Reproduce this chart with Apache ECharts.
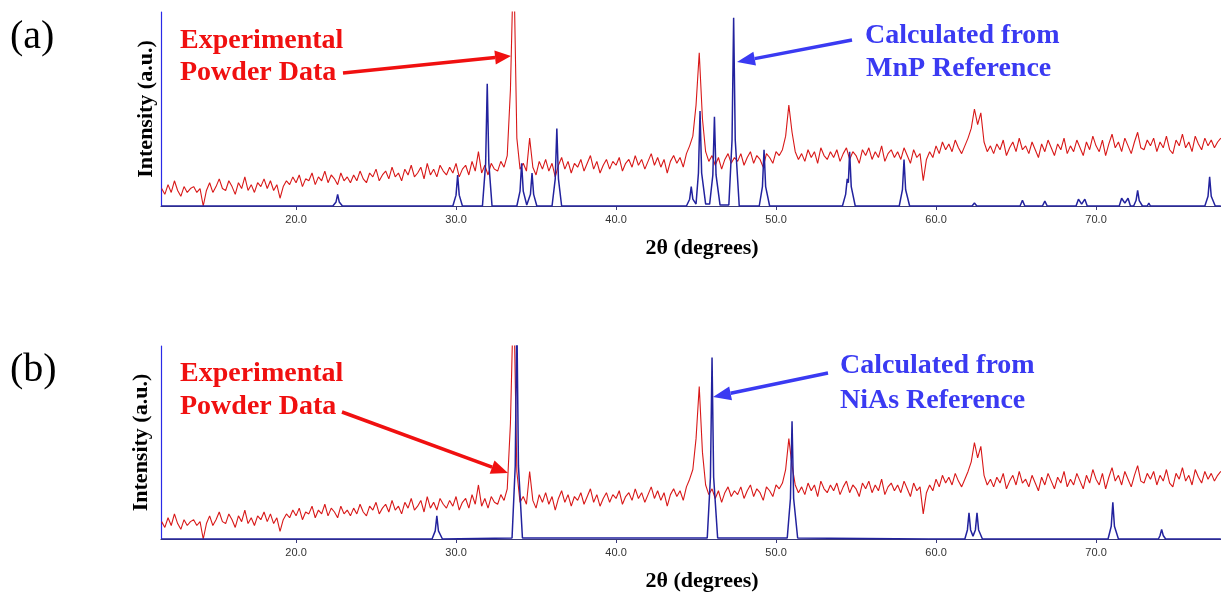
<!DOCTYPE html>
<html>
<head>
<meta charset="utf-8">
<script src="https://cdn.jsdelivr.net/npm/echarts@6.0.0/dist/echarts.min.js"></script>
<style>
html,body{margin:0;padding:0;background:#fff;}
#chart{width:1221px;height:593px;}
</style>
</head>
<body>
<div id="chart"></div>
<script>
// ---- Data ----
const X_TICKS = [20, 30, 40, 50, 60, 70];
const X_MIN = 11.56, X_MAX = 77.81;
// experimental scan: 2θ start / step of the samples
const SCAN_START = 11.6, SCAN_STEP = 0.2;
const EXP_INTENSITY = [
 9, 6, 11, 7, 13, 8, 5, 10, 7, 9,
 10, 7, 9, 0, 8, 12, 7, 10, 14, 9,
 8, 13, 10, 6, 12, 9, 15, 8, 11, 7,
 12, 10, 14, 9, 13, 8, 11, 4, 10, 13,
 11, 15, 12, 16, 10, 14, 13, 17, 11, 15,
 13, 18, 12, 16, 14, 11, 17, 13, 15, 12,
 16, 13, 18, 14, 12, 17, 15, 19, 13, 16,
 18, 14, 20, 15, 17, 13, 19, 16, 21, 15,
 17, 20, 14, 22, 16, 19, 15, 21, 18, 16,
 20, 17, 22, 15, 19, 21, 16, 23, 18, 28,
 17, 21, 16, 22, 19, 18, 23, 20, 26, 60,
 130, 35, 19, 22, 18, 35, 20, 16, 23, 19,
 24, 18, 22, 15, 21, 25, 19, 23, 17, 22,
 20, 24, 18, 22, 26, 19, 23, 17, 21, 24,
 19, 23, 21, 25, 18, 22, 24, 20, 26, 21,
 24, 19, 23, 27, 21, 25, 20, 24, 17, 23,
 26, 22, 25, 20, 27, 31, 36, 52, 79, 45,
 28, 23, 26, 21, 25, 19, 24, 27, 22, 25,
 23, 27, 21, 25, 28, 22, 26, 24, 20, 27,
 25, 22, 28, 26, 29, 36, 52, 38, 28, 24,
 27, 23, 29, 25, 28, 22, 30, 26, 24, 28,
 25, 29, 23, 27, 30, 24, 28, 26, 22, 29,
 26, 30, 24, 28, 25, 31, 23, 27, 29, 25,
 28, 24, 30, 26, 22, 29, 25, 27, 13, 24,
 28, 25, 31, 27, 33, 29, 32, 28, 34, 30,
 27, 31, 35, 40, 50, 42, 48, 33, 28, 31,
 27, 32, 29, 34, 26, 30, 33, 28, 35, 29,
 31, 27, 33, 29, 25, 32, 28, 34, 30, 26,
 32, 29, 35, 27, 31, 28, 34, 30, 26, 33,
 29, 36, 31, 28, 34, 26, 32, 37, 30, 33,
 28, 35, 31, 27, 33, 38, 30, 29, 34, 31,
 35, 28, 33, 30, 36, 29, 27, 34, 31, 37,
 30, 33, 28, 36, 32, 29, 35, 31, 34, 30,
 33, 35
];
const MNP_CALC = [
 [11.6,0],
 [22.3,0],[22.5,2.1],[22.6,6],[22.7,2.1],[22.9,0],
 [29.8,0],[30.0,5.6],[30.1,16],[30.2,5.6],[30.4,0],
 [31.65,0],[31.85,22],[31.95,63],[32.05,22],[32.25,0],
 [33.8,0],[34.0,7.7],[34.1,22],[34.2,7.7],[34.42,0.5],
 [34.65,6],[34.75,17],[34.85,6],[35.05,0],
 [36.0,0],[36.2,14],[36.3,40],[36.4,14],[36.6,0],
 [44.4,0],[44.6,3.5],[44.7,10],[44.8,3.5],[45.0,1],
 [45.15,17],[45.25,49],[45.35,17],[45.6,1],
 [45.85,1],[46.05,16],[46.15,46],[46.25,16],[46.5,0.5],
 [47.05,0.5],[47.25,34],[47.35,97],[47.45,34],[47.7,0],
 [48.95,0],[49.15,10],[49.25,29],[49.35,10],[49.6,0],
 [54.15,0],[54.35,6],[54.45,14],[54.52,12],[54.6,28],[54.7,10],[54.95,0],
 [57.7,0],[57.9,8.4],[58.0,24],[58.1,8.4],[58.35,0],
 [62.25,0],[62.4,1.5],[62.55,0],
 [65.25,0],[65.4,3],[65.55,0],
 [66.65,0],[66.8,2.5],[66.95,0],
 [68.75,0],[68.9,3.5],[69.1,1],[69.3,3.5],[69.45,0],
 [71.45,0],[71.6,4],[71.8,1.5],[72.0,4],[72.15,0],
 [72.35,0],[72.5,2.8],[72.6,8],[72.7,2.8],[72.9,0],
 [73.2,0],[73.3,1.5],[73.4,0],
 [76.8,0],[77.0,5],[77.1,15],[77.2,5],[77.45,0],
 [77.8,0]
];
const NIAS_CALC = [
 [11.6,0],
 [28.5,0],[28.7,4.2],[28.8,12],[28.9,4.2],[29.15,0],
 [33.5,0.5],[33.7,38],[33.8,115],[33.9,38],[34.15,0.5],
 [45.7,0.5],[45.9,32],[46.0,94],[46.1,32],[46.35,0.5],
 [50.7,0.5],[50.9,21],[51.0,61],[51.1,21],[51.35,0.5],
 [59.5,0],[59.6,1],[59.7,0],
 [61.8,0],[61.96,4.7],[62.06,13.5],[62.16,4.7],[62.31,1.5],[62.46,4.7],[62.56,13.5],[62.66,4.7],[62.9,0],
 [70.75,0],[70.95,6.6],[71.05,19],[71.15,6.6],[71.4,0],
 [73.9,0],[74.0,1.8],[74.1,5],[74.2,1.8],[74.35,0],
 [77.8,0]
];

// ---- Build chart ----
const expPairs = EXP_INTENSITY.map((v, i) => [+(SCAN_START + i * SCAN_STEP).toFixed(2), v]);
const SERIF = '"Liberation Serif", "Times New Roman", serif';
const SANS = '"Liberation Sans", Arial, sans-serif';
const RED = '#f01010', BLUE = '#3a3af2';
const AXIS_DARK = '#3a3a78', AXIS_BLUE = '#2a2ae8';

function xAxis(gridIndex) {
  return {
    type: 'value', gridIndex, min: X_MIN, max: X_MAX,
    name: '2θ (degrees)', nameLocation: 'middle', nameGap: 31,
    nameTextStyle: { fontFamily: SERIF, fontWeight: 'bold', fontSize: 22, color: '#000', padding: [0, 0, 0, 22] },
    axisLine: { show: true, lineStyle: { color: AXIS_DARK, width: 1.2 } },
    axisTick: { show: true, length: 4, customValues: X_TICKS, lineStyle: { color: AXIS_DARK } },
    axisLabel: { customValues: X_TICKS, margin: 8, fontFamily: SANS, fontSize: 11, color: '#333',
                 formatter: v => v.toFixed(1) },
    splitLine: { show: false }
  };
}
function yAxis(gridIndex, gap) {
  return {
    type: 'value', gridIndex, min: 0, max: 100,
    name: 'Intensity (a.u.)', nameLocation: 'middle', nameGap: gap, nameRotate: 90,
    nameTextStyle: { fontFamily: SERIF, fontWeight: 'bold', fontSize: 22, color: '#000' },
    axisLine: { show: true, lineStyle: { color: AXIS_BLUE, width: 1.2 } },
    axisTick: { show: false }, axisLabel: { show: false }, splitLine: { show: false }
  };
}
function arrow(x1, y1, tip, base, p1, p2, color) {
  return [
    { type: 'line', shape: { x1, y1, x2: base[0], y2: base[1] }, style: { stroke: color, lineWidth: 3.5 } },
    { type: 'polygon', shape: { points: [tip, p1, p2] }, style: { fill: color } }
  ];
}
function label(text, x, y, color, size, weight) {
  return { type: 'text', x, y, style: { text, fill: color, font: `${weight} ${size}px ${SERIF}`,
           textAlign: 'left', textVerticalAlign: 'middle' } };
}

const chart = echarts.init(document.getElementById('chart'), null, { renderer: 'canvas' });
chart.setOption({
  animation: false,
  backgroundColor: '#fff',
  grid: [
    { left: 161, top: 12, width: 1060, height: 194 },
    { left: 161, top: 346, width: 1060, height: 193 }
  ],
  xAxis: [xAxis(0), xAxis(1)],
  yAxis: [yAxis(0, 4), yAxis(1, 9)],
  series: [
    { type: 'line', xAxisIndex: 0, yAxisIndex: 0, data: expPairs, showSymbol: false, symbol: 'none',
      lineStyle: { color: '#d81818', width: 1.1 }, clip: true, z: 2 },
    { type: 'line', xAxisIndex: 0, yAxisIndex: 0, data: MNP_CALC, showSymbol: false, symbol: 'none',
      lineStyle: { color: '#22229e', width: 1.5 }, clip: true, z: 3 },
    { type: 'line', xAxisIndex: 1, yAxisIndex: 1, data: expPairs, showSymbol: false, symbol: 'none',
      lineStyle: { color: '#d81818', width: 1.1 }, clip: true, z: 2 },
    { type: 'line', xAxisIndex: 1, yAxisIndex: 1, data: NIAS_CALC, showSymbol: false, symbol: 'none',
      lineStyle: { color: '#22229e', width: 1.5 }, clip: true, z: 3 }
  ],
  graphic: [
    label('(a)', 10, 37, '#000', 40, 'normal'),
    label('(b)', 10, 370, '#000', 40, 'normal'),
    label('Experimental', 180, 41, RED, 28, 'bold'),
    label('Powder Data', 180, 73, RED, 28, 'bold'),
    label('Calculated from', 865, 36, BLUE, 28, 'bold'),
    label('MnP Reference', 866, 69, BLUE, 28, 'bold'),
    label('Experimental', 180, 374, RED, 28, 'bold'),
    label('Powder Data', 180, 407, RED, 28, 'bold'),
    label('Calculated from', 840, 366, BLUE, 28, 'bold'),
    label('NiAs Reference', 840, 401, BLUE, 28, 'bold'),
    ...arrow(343, 73, [511, 56], [495.1, 57.6], [495.8, 64.6], [494.4, 50.6], RED),
    ...arrow(852, 40, [737, 62], [754.7, 58.6], [756, 65.5], [753.4, 51.7], BLUE),
    ...arrow(342, 412, [508, 473], [492.1, 467.1], [489.7, 473.7], [494.5, 460.5], RED),
    ...arrow(828, 373, [713, 397], [730.6, 393.3], [732, 400.2], [729.2, 386.5], BLUE)
  ]
});
</script>
</body>
</html>
